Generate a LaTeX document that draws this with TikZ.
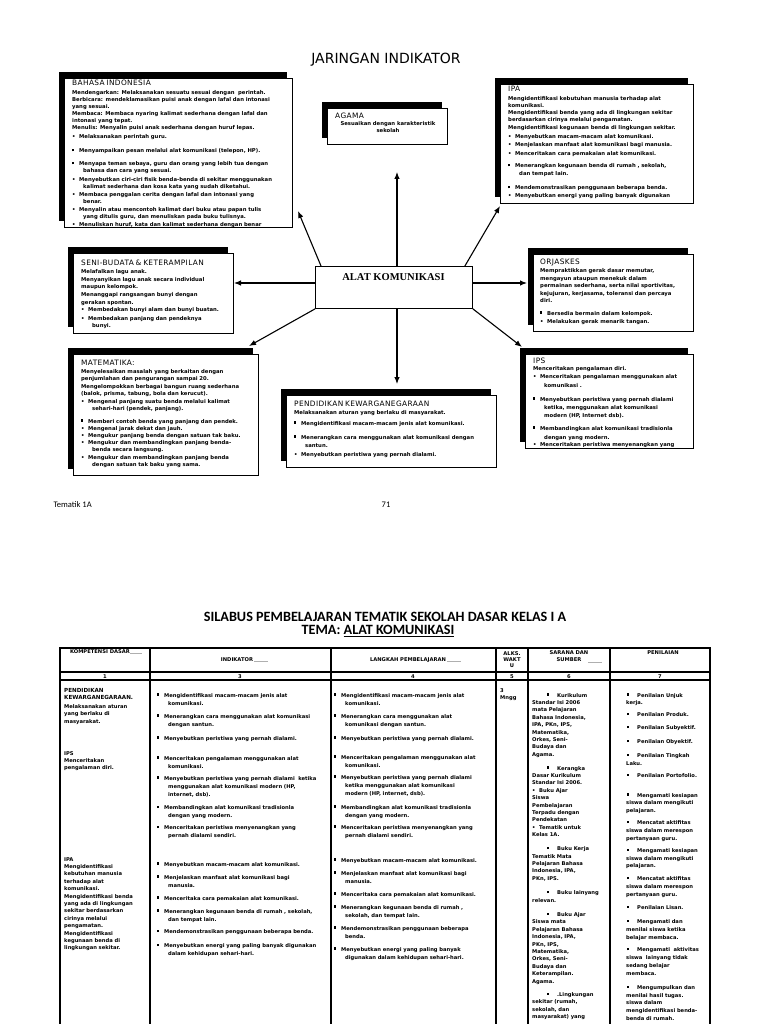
\documentclass[tikz,border=0pt]{standalone}
\usepackage{fontspec}
\setmainfont{Liberation Sans}
\newfontfamily\vfont{DejaVu Sans}
\newfontfamily\hfont[LetterSpace=5]{DejaVu Sans}
\newfontfamily\tfont{Liberation Serif}
\newfontfamily\cfont{Carlito}
\usetikzlibrary{arrows.meta,shadows}

\newcommand{\boxfont}{\vfont\bfseries\fontsize{5.3}{7}\selectfont}
\newcommand{\boxhead}{\hfont\mdseries\fontsize{7.4}{7}\selectfont}
\newcommand{\tabfont}{\vfont\bfseries\fontsize{5.2}{7.4}\selectfont}
\newcommand{\listfont}{\vfont\bfseries\fontsize{5.2}{8}\selectfont}
\newcommand{\nilfont}{\vfont\bfseries\fontsize{5.2}{7.75}\selectfont}
\newcommand{\sqb}{\makebox[7pt][l]{\rule[1.5pt]{2.2pt}{2.2pt}}}
\newcommand{\rdb}{\makebox[7pt][l]{\textbullet}}
\newcommand{\ind}{\hspace*{11pt}}
\newcommand{\psq}{\hspace*{1pt}\sqb\hspace{3pt}}
\newcommand{\ssq}{\hspace*{15pt}\sqb\hspace{3pt}}

\begin{document}
\begin{tikzpicture}[x=1pt,y=-1pt]
  \definecolor{fieldgray}{RGB}{175,175,175}

  \tikzset{
    panel/.style={draw=black,fill=white,line width=0.7pt,inner sep=0pt,anchor=north west,
      drop shadow={shadow xshift=-5.5pt,shadow yshift=6.5pt,fill=black,opacity=1}},
    hub/.style={draw=black,fill=white,line width=0.9pt,inner sep=0pt,anchor=north west},
    boxtext/.style={font=\boxfont,align=left,text width=260pt,anchor=base west,inner sep=0pt},
    tabtext/.style={font=\tabfont,align=left,text width=200pt,anchor=base west,inner sep=0pt},
    tablist/.style={font=\listfont,align=left,text width=200pt,anchor=base west,inner sep=0pt},
    thtext/.style={font=\vfont\bfseries\fontsize{5.2}{7}\selectfont,inner sep=0pt,anchor=base},
    arr/.style={-{Latex[length=7pt,width=5.5pt]},line width=1.1pt},
    tabrule/.style={line width=1.5pt},
    fieldline/.style={draw=fieldgray,line width=0.4pt}
  }

  \fill[white] (0,0) rectangle (768,1024);
  \useasboundingbox (0,0) rectangle (768,1024);

  % ---------------- Jaringan indikator ----------------
  \node[font=\vfont\fontsize{14}{16}\selectfont] (jtitle) at (386,60) {JARINGAN INDIKATOR};

  \node[panel,minimum width=228pt,minimum height=149pt] (bahasa) at (64,78) {};
  \node[panel,minimum width=193pt,minimum height=119pt] (ipa) at (500,84) {};
  \node[panel,minimum width=120pt,minimum height=36pt] (agama) at (327,108) {};
  \node[panel,minimum width=160pt,minimum height=80pt] (seni) at (73,253) {};
  \node[panel,minimum width=160pt,minimum height=77pt] (orjaskes) at (533,254) {};
  \node[panel,minimum width=185pt,minimum height=121pt] (mat) at (73,354) {};
  \node[panel,minimum width=168pt,minimum height=94pt] (ips) at (525,354) {};
  \node[panel,minimum width=210pt,minimum height=72pt] (pkn) at (286,395) {};

  % Centre
  \node[hub,minimum width=157pt,minimum height=42pt] (alat) at (315,266) {};
  \node[font=\tfont\bfseries\fontsize{10.5}{12}\selectfont,anchor=base] (alatTxt) at (393.5,280) {ALAT KOMUNIKASI};

  % Arrow tips
  \coordinate (tUp) at (397,172);
  \coordinate (tDown) at (397,384);
  \coordinate (tLeft) at (234,283);
  \coordinate (tRight) at (527,283);
  \coordinate (tUL) at (298,211);
  \coordinate (tUR) at (500,206);
  \coordinate (tLL) at (249,346);
  \coordinate (tLR) at (522,347);

  \draw[arr] (tUp |- alat.north) -- (tUp);
  \draw[arr] (tDown |- alat.south) -- (tDown);
  \draw[arr] (alat.west |- tLeft) -- (tLeft);
  \draw[arr] (alat.east |- tRight) -- (tRight);
  \draw[arr] ([xshift=6pt]alat.north west) -- (tUL);
  \draw[arr] ([xshift=-8pt]alat.north east) -- (tUR);
  \draw[arr] (alat.south west) -- (tLL);
  \draw[arr] (alat.south east) -- (tLR);

  % Bahasa Indonesia
  \node[boxtext] (bahasaTxt) at (72,86) {{\boxhead BAHASA INDONESIA}\\[2pt]
    Mendengarkan: Melaksanakan sesuatu sesuai dengan\ \ perintah.\\
    Berbicara: mendeklamasikan puisi anak dengan lafal dan intonasi\\
    yang sesuai.\\
    Membaca: Membaca nyaring kalimat sederhana dengan lafal dan\\
    intonasi yang tepat.\\
    Menulis: Menyalin puisi anak sederhana dengan huruf lepas.\\[2pt]
    \rdb Melaksanakan perintah guru.\\[7pt]
    \sqb Menyampaikan pesan melalui alat komunikasi (telepon, HP).\\[6pt]
    \sqb Menyapa teman sebaya, guru dan orang yang lebih tua dengan\\
    \ind bahasa dan cara yang sesuai.\\[2pt]
    \rdb Menyebutkan ciri-ciri fisik benda-benda di sekitar menggunakan\\
    \ind kalimat sederhana dan kosa kata yang sudah diketahui.\\[1pt]
    \rdb Membaca penggalan cerita dengan lafal dan intonasi yang\\
    \ind benar.\\[1pt]
    \rdb Menyalin atau mencontoh kalimat dari buku atau papan tulis\\
    \ind yang ditulis guru, dan menuliskan pada buku tulisnya.\\[1pt]
    \rdb Menuliskan huruf, kata dan kalimat sederhana dengan benar};

  % IPA
  \node[boxtext] (ipaTxt) at (508,92) {{\boxhead IPA}\\[2pt]
    Mengidentifikasi kebutuhan manusia terhadap alat\\
    komunikasi.\\
    Mengidentifikasi benda yang ada di lingkungan sekitar\\
    berdasarkan cirinya melalui pengamatan.\\[1pt]
    Mengidentifikasi kegunaan benda di lingkungan sekitar.\\[2pt]
    \rdb Menyebutkan macam-macam alat komunikasi.\\[1pt]
    \rdb Menjelaskan manfaat alat komunikasi bagi manusia.\\[2pt]
    \rdb Menceritakan cara pemakaian alat komunikasi.\\[5pt]
    \sqb Menerangkan kegunaan benda di rumah , sekolah,\\[1pt]
    \ind dan tempat lain.\\[7pt]
    \sqb Mendemonstrasikan penggunaan beberapa benda.\\[1pt]
    \rdb Menyebutkan energi yang paling banyak digunakan};

  % Agama
  \node[font=\boxhead,anchor=base west,inner sep=0pt] (agamaHead) at (335,119) {AGAMA};
  \node[boxtext,align=center,text width=110pt,anchor=base] (agamaTxt) at (388,126)
    {Sesuaikan dengan karakteristik\\sekolah};

  % Seni-Budaya
  \node[boxtext] (seniTxt) at (81,265) {{\boxhead SENI-BUDATA \& KETERAMPILAN}\\[2pt]
    Melafalkan lagu anak.\\
    Menyanyikan lagu anak secara individual\\[1pt]
    maupun kelompok.\\[1pt]
    Menanggapi rangsangan bunyi dengan\\
    gerakan spontan.\\[1pt]
    \rdb Membedakan bunyi alam dan bunyi buatan.\\[1pt]
    \rdb Membedakan panjang dan pendeknya\\
    \ind bunyi.};

  % Orjaskes
  \node[boxtext] (orjaskesTxt) at (540,264) {{\boxhead ORJASKES}\\[1pt]
    Mempraktikkan gerak dasar memutar,\\[1pt]
    mengayun ataupun menekuk dalam\\
    permainan sederhana, serta nilai sportivitas,\\[1pt]
    kejujuran, kerjasama, toleransi dan percaya\\
    diri.\\[6pt]
    \sqb Bersedia bermain dalam kelompok.\\[1pt]
    \rdb Melakukan gerak menarik tangan.};

  % Matematika
  \node[boxtext] (matTxt) at (81,365) {{\boxhead MATEMATIKA:}\\[1pt]
    Menyelesaikan masalah yang berkaitan dengan\\
    penjumlahan dan pengurangan sampai 20.\\[1pt]
    Mengelompokkan berbagai bangun ruang sederhana\\
    (balok, prisma, tabung, bola dan kerucut).\\[1pt]
    \rdb Mengenal panjang suatu benda melalui kalimat\\
    \ind sehari-hari (pendek, panjang).\\[6pt]
    \sqb Memberi contoh benda yang panjang dan pendek.\\
    \rdb Mengenal jarak dekat dan jauh.\\
    \rdb Mengukur panjang benda dengan satuan tak baku.\\
    \rdb Mengukur dan membandingkan panjang benda-\\
    \ind benda secara langsung.\\[1pt]
    \rdb Mengukur dan membandingkan panjang benda\\
    \ind dengan satuan tak baku yang sama.};

  % IPS
  \begin{scope}
    \clip (ips.north west) rectangle ([yshift=2.5pt]ips.south east);
    \node[boxtext] (ipsTxt) at (533,363) {{\boxhead IPS}\\
      Menceritakan pengalaman diri.\\[1pt]
      \rdb Menceritakan pengalaman menggunakan alat\\[2pt]
      \ind komunikasi .\\[7pt]
      \sqb Menyebutkan peristiwa yang pernah dialami\\[1pt]
      \ind ketika, menggunakan alat komunikasi\\[1pt]
      \ind modern (HP, Internet dsb).\\[6pt]
      \sqb Membandingkan alat komunikasi tradisionla\\[2pt]
      \ind dengan yang modern.\\
      \rdb Menceritakan peristiwa menyenangkan yang};
  \end{scope}

  % PKn
  \node[boxtext] (pknTxt) at (294,406) {{\boxhead PENDIDIKAN KEWARGANEGARAAN}\\[1pt]
    Melaksanakan aturan yang berlaku di masyarakat.\\[4pt]
    \sqb Mengidentifikasi macam-macam jenis alat komunikasi.\\[7pt]
    \sqb Menerangkan cara menggunakan alat komunikasi dengan\\[1pt]
    \ind santun.\\[2pt]
    \rdb Menyebutkan peristiwa yang pernah dialami.};

  % Footer
  \node[font=\cfont\fontsize{8.5}{10}\selectfont,anchor=west] (tematik) at (50,505) {Tematik 1A};
  \node[font=\cfont\fontsize{8.5}{10}\selectfont] (pageno) at (386,505) {71};

  % ---------------- Silabus ----------------
  \node[font=\cfont\bfseries\fontsize{14.2}{16}\selectfont] (stitle) at (385,617)
    {SILABUS PEMBELAJARAN TEMATIK SEKOLAH DASAR KELAS I A};
  \node[font=\cfont\bfseries\fontsize{14.2}{16}\selectfont] (tema) at (378,631)
    {TEMA: \underline{ALAT KOMUNIKASI}};

  \draw[tabrule] (60,648) rectangle (710,1040);
  \foreach \cx in {150,331,496,528,610}
    \draw[tabrule] (\cx,648) -- (\cx,1040);
  \draw[tabrule] (60,672) -- (710,672);
  \draw[tabrule] (60,680) -- (710,680);

  % Header
  \node[thtext] (hKD) at (100,653.5) {KOMPETENSI DASAR};
  \node[thtext] (hInd) at (237,661) {INDIKATOR};
  \node[thtext] (hLangkah) at (408,661) {LANGKAH PEMBELAJARAN};
  \node[thtext,align=center,text width=30pt] (hWaktu) at (512,655) {ALKS.\\[-1pt]WAKT\\[-1pt]U};
  \node[thtext,align=center,text width=78pt] (hSarana) at (569,654) {SARANA DAN\\SUMBER};
  \node[thtext] (hNilai) at (663,654) {PENILAIAN};
  \draw[fieldline] (hKD.base east) -- ++(12,0);
  \draw[fieldline] ([xshift=1pt]hInd.base east) -- ++(14,0);
  \draw[fieldline] ([xshift=1pt]hLangkah.base east) -- ++(14,0);
  \draw[fieldline] (588,662) -- ++(14,0);

  \foreach \cx/\n in {105/1,240/3,413/4,512/5,569/6,660/7}
    \node[thtext] (num\n) at (\cx,678.5) {\n};

  % Kompetensi dasar
  \node[tabtext] (kdPkn) at (64,692) {{\fontsize{5.6}{7.4}\selectfont PENDIDIKAN}\\
    {\fontsize{5.6}{7.4}\selectfont KEWARGANEGARAAN.}\\[1.5pt]
    Melaksanakan aturan\\ yang berlaku di\\ masyarakat.};
  \node[tabtext] (kdIps) at (64,755) {IPS\\ Menceritakan\\ pengalaman diri.};
  \node[tabtext] (kdIpa) at (64,861) {IPA\\ Mengidentifikasi\\ kebutuhan manusia\\
    terhadap alat\\ komunikasi.\\ Mengidentifikasi benda\\ yang ada di lingkungan\\
    sekitar berdasarkan\\ cirinya melalui\\ pengamatan.\\ Mengidentifikasi\\
    kegunaan benda di\\ lingkungan sekitar.};

  % Indikator
  \node[tablist] (indPkn) at (157,697) {\sqb Mengidentifikasi macam-macam jenis alat\\
    \ind komunikasi.\\[5pt]
    \sqb Menerangkan cara menggunakan alat komunikasi\\
    \ind dengan santun.\\[6pt]
    \sqb Menyebutkan peristiwa yang pernah dialami.};
  \node[tablist] (indIps) at (157,760) {\sqb Menceritakan pengalaman menggunakan alat\\
    \ind komunikasi.\\[4pt]
    \sqb Menyebutkan peristiwa yang pernah dialami\ \ ketika\\[0.5pt]
    \ind menggunakan alat komunikasi modern (HP,\\
    \ind internet, dsb).\\[5pt]
    \sqb Membandingkan alat komunikasi tradisionla\\
    \ind dengan yang modern.\\[4pt]
    \sqb Menceritakan peristiwa menyenangkan yang\\
    \ind pernah dialami sendiri.};
  \node[tablist] (indIpa) at (157,866) {\sqb Menyebutkan macam-macam alat komunikasi.\\[5pt]
    \sqb Menjelaskan manfaat alat komunikasi bagi\\
    \ind manusia.\\[5pt]
    \sqb Menceritaka cara pemakaian alat komunikasi.\\[5pt]
    \sqb Menerangkan kegunaan benda di rumah , sekolah,\\
    \ind dan tempat lain.\\[4.5pt]
    \sqb Mendemonstrasikan penggunaan beberapa benda.\\[6pt]
    \sqb Menyebutkan energi yang paling banyak digunakan\\
    \ind dalam kehidupan sehari-hari.};

  % Langkah pembelajaran
  \node[tablist] (lkPkn) at (334,697) {\sqb Mengidentifikasi macam-macam jenis alat\\
    \ind komunikasi.\\[5pt]
    \sqb Menerangkan cara menggunakan alat\\
    \ind komunikasi dengan santun.\\[6pt]
    \sqb Menyebutkan peristiwa yang pernah dialami.};
  \node[tablist] (lkIps) at (334,759) {\sqb Menceritakan pengalaman menggunakan alat\\
    \ind komunikasi.\\[4pt]
    \sqb Menyebutkan peristiwa yang pernah dialami\\
    \ind ketika menggunakan alat komunikasi\\
    \ind modern (HP, internet, dsb).\\[6pt]
    \sqb Membandingkan alat komunikasi tradisionla\\
    \ind dengan yang modern.\\[4pt]
    \sqb Menceritakan peristiwa menyenangkan yang\\
    \ind pernah dialami sendiri.};
  \node[tablist] (lkIpa) at (334,862) {\sqb Menyebutkan macam-macam alat komunikasi.\\[5pt]
    \sqb Menjelaskan manfaat alat komunikasi bagi\\
    \ind manusia.\\[5pt]
    \sqb Menceritaka cara pemakaian alat komunikasi.\\[5pt]
    \sqb Menerangkan kegunaan benda di rumah ,\\
    \ind sekolah, dan tempat lain.\\[5pt]
    \sqb Mendemonstrasikan penggunaan beberapa\\
    \ind benda.\\[5pt]
    \sqb Menyebutkan energi yang paling banyak\\
    \ind digunakan dalam kehidupan sehari-hari.};

  % Alokasi waktu
  \node[tabtext] (waktu) at (500,692) {3\\ Mngg};

  % Sarana dan sumber
  \node[tabtext] (sarana) at (532,697) {\ssq Kurikulum\\
    Standar Isi 2006\\ mata Pelajaran\\ Bahasa Indonesia,\\ IPA, PKn, IPS,\\
    Matematika,\\ Orkes, Seni-\\ Budaya dan\\ Agama.\\[6.5pt]
    \ssq Kerangka\\ Dasar Kurikulum\\ Standar Isi 2006.\\
    \rdb Buku Ajar\\ Siswa\\ Pembelajaran\\ Terpadu dengan\\ Pendekatan\\
    \rdb Tematik untuk\\ Kelas 1A.\\[6.5pt]
    \ssq Buku Kerja\\ Tematik Mata\\ Pelajaran Bahasa\\ Indonesia, IPA,\\ PKn, IPS.\\[7pt]
    \ssq Buku lainyang\\ relevan.\\[7pt]
    \ssq Buku Ajar\\ Siswa mata\\ Pelajaran Bahasa\\ Indonesia, IPA,\\ PKn, IPS,\\
    Matematika,\\ Orkes, Seni-\\ Budaya dan\\ Keterampilan.\\ Agama.\\[6pt]
    \ssq .Lingkungan\\ sekitar (rumah,\\ sekolah, dan\\ masyarakat) yang};

  % Penilaian
  \node[tabtext,font=\nilfont] (nilai) at (626,697) {\psq Penilaian Unjuk\\ kerja.\\[4.2pt]
    \psq Penilaian Produk.\\[5.2pt]
    \psq Penilaian Subyektif.\\[6.2pt]
    \psq Penilaian Obyektif.\\[6.2pt]
    \psq Penilaian Tingkah\\ Laku.\\[4.2pt]
    \psq Penilaian Portofolio.\\[12pt]
    \psq Mengamati kesiapan\\ siswa dalam mengikuti\\ pelajaran.\\[4.4pt]
    \psq Mencatat aktifitas\\ siswa dalam merespon\\ pertanyaan guru.\\[4.4pt]
    \psq Mengamati kesiapan\\ siswa dalam mengikuti\\ pelajaran.\\[5pt]
    \psq Mencatat aktifitas\\ siswa dalam merespon\\ pertanyaan guru.\\[5.5pt]
    \psq Penilaian Lisan.\\[6.5pt]
    \psq Mengamati dan\\ menilai siswa ketika\\ belajar membaca.\\[5pt]
    \psq Mengamati\ \ aktivitas\\ siswa\ \ lainyang tidak\\ sedang belajar\\ membaca.\\[6.5pt]
    \psq Mengumpulkan dan\\ menilai hasil tugas.\\ siswa dalam\\
    mengidentifikasi benda-\\ benda di rumah.};
\end{tikzpicture}
\end{document}
